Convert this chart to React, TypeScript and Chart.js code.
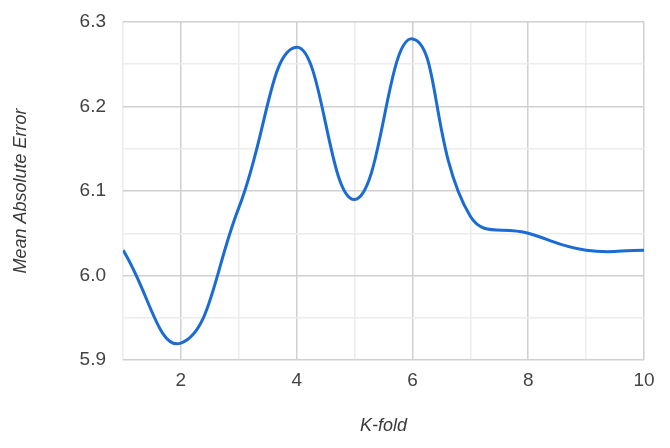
import React, { useEffect, useRef } from "react";
import { Chart, registerables } from "chart.js";

Chart.register(...registerables);

const kFolds = [1, 2, 3, 4, 5, 6, 7, 8, 9, 10];
const maeValues = [6.03, 5.92, 6.08, 6.27, 6.09, 6.28, 6.07, 6.05, 6.03, 6.03];
const xTickLabels = [2, 4, 6, 8, 10];
const yTickLabels = [5.9, 6.0, 6.1, 6.2, 6.3];

export default function App() {
  const ref = useRef<HTMLCanvasElement | null>(null);

  useEffect(() => {
    if (!ref.current) return;
    const points = kFolds.map((k, i) => ({ x: k, y: maeValues[i] }));
    const chart = new Chart(ref.current, {
      type: "line",
      data: {
        datasets: [
          {
            data: points,
            borderColor: "#1a6bd4",
            borderWidth: 3,
            pointRadius: 0,
            tension: 0.45,
            fill: false,
          },
        ],
      },
      options: {
        animation: false,
        responsive: false,
        maintainAspectRatio: false,
        layout: { padding: { top: 22, right: 26, left: 0, bottom: 0 } },
        plugins: { legend: { display: false }, tooltip: { enabled: false } },
        scales: {
          x: {
            type: "linear",
            min: 1,
            max: 10,
            border: { display: false },
            afterFit: (s: any) => {
              s.height = 88;
              s.paddingLeft = 0;
              s.paddingRight = 0;
            },
            ticks: {
              stepSize: 1,
              padding: 9,
              color: "#444444",
              font: { family: "Liberation Sans, Arial", size: 19 },
              maxRotation: 0,
              autoSkip: false,
              callback: (v: any) => (xTickLabels.includes(Number(v)) ? String(v) : ""),
            },
            grid: {
              drawTicks: false,
              lineWidth: 1.5,
              color: (ctx: any) =>
                ctx.tick && Number(ctx.tick.value) % 2 === 0 ? "#d0d0d0" : "#ececec",
            },
            title: {
              display: true,
              text: "K-fold",
              color: "#3a3a3a",
              font: { family: "Liberation Sans, Arial", size: 18, style: "italic" },
              padding: { top: 0, bottom: 11 },
            },
          },
          y: {
            min: 5.9,
            max: 6.3,
            border: { display: false },
            afterFit: (s: any) => {
              s.width = 123;
              s.paddingTop = 0;
              s.paddingBottom = 0;
            },
            ticks: {
              stepSize: 0.05,
              padding: 17,
              color: "#444444",
              font: { family: "Liberation Sans, Arial", size: 19 },
              autoSkip: false,
              callback: (v: any) => {
                const n = Math.round(Number(v) * 100);
                const match = yTickLabels.find((t) => Math.round(t * 100) === n);
                return match !== undefined ? match.toFixed(1) : "";
              },
            },
            grid: {
              drawTicks: false,
              lineWidth: 1.5,
              color: (ctx: any) =>
                ctx.tick && Math.round(Number(ctx.tick.value) * 100) % 10 === 0
                  ? "#d0d0d0"
                  : "#ececec",
            },
            title: {
              display: true,
              text: "Mean Absolute Error",
              color: "#3a3a3a",
              font: { family: "Liberation Sans, Arial", size: 18, style: "italic" },
              padding: { top: 10, bottom: 0 },
            },
          },
        },
      },
    });
    return () => chart.destroy();
  }, []);

  return (
    <div style={{ position: "fixed", left: 0, top: 0, width: 670, height: 448, background: "#fff" }}>
      <canvas ref={ref} width={670} height={448} style={{ width: 670, height: 448 }} />
    </div>
  );
}
